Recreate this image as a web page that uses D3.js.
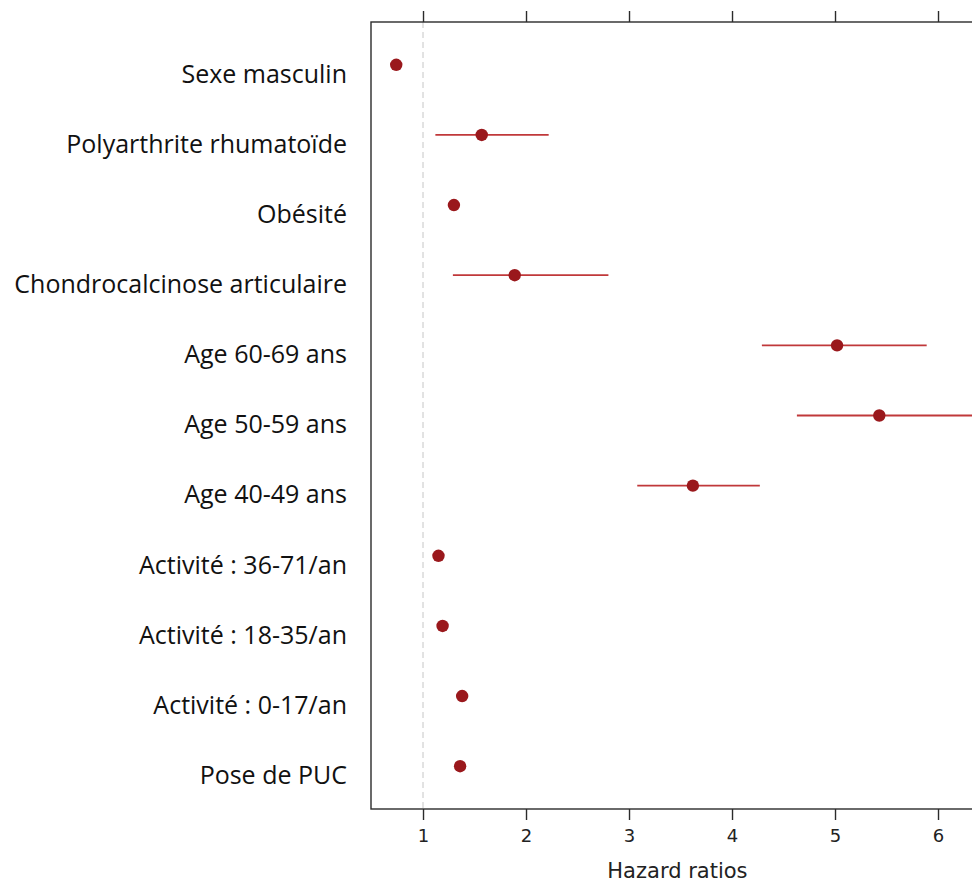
<!DOCTYPE html>
<html>
<head>
<meta charset="utf-8">
<script src="https://cdn.jsdelivr.net/npm/d3@7"></script>
<style>
  html, body { margin: 0; padding: 0; background: #fff; overflow: hidden; }
</style>
</head>
<body>
<div id="chart"></div>
<script>
// Data, top row first
const labels = [
    "Sexe masculin",
    "Polyarthrite rhumatoïde",
    "Obésité",
    "Chondrocalcinose articulaire",
    "Age 60-69 ans",
    "Age 50-59 ans",
    "Age 40-49 ans",
    "Activité : 36-71/an",
    "Activité : 18-35/an",
    "Activité : 0-17/an",
    "Pose de PUC"
];
const hr    = [0.74, 1.57, 1.30, 1.89, 5.02, 5.43, 3.62, 1.15, 1.19, 1.38, 1.36];
const lower = [0.71, 1.12, 1.27, 1.29, 4.29, 4.63, 3.08, 1.11, 1.15, 1.34, 1.32];
const upper = [0.77, 2.22, 1.33, 2.80, 5.89, 6.50, 4.27, 1.19, 1.23, 1.42, 1.40];
const tickVals = [1, 2, 3, 4, 5, 6];

const rows = labels.map((name, i) => ({ name, hr: hr[i], lo: lower[i], hi: upper[i] }));

// Lay-out
const fullWidth = 972;
const fullHeight = 883;
const margin = { top: 22, right: -30, bottom: 74, left: 371 };
const width = fullWidth - margin.left - margin.right;
const height = fullHeight - margin.top - margin.bottom;

const svg = d3.select("#chart")
    .append("svg")
    .attr("width", fullWidth)
    .attr("height", fullHeight)
    .append("g")
    .attr("transform", `translate(${margin.left},${margin.top})`);

const x = d3.scaleLinear().domain([0.495, 6.5]).range([0, 6.005 * 103]);
const y = d3.scalePoint().domain(labels).range([0, height]).padding(0.61);

// Reference line at HR = 1
svg.append("line")
    .attr("x1", x(1)).attr("x2", x(1))
    .attr("y1", 0).attr("y2", height)
    .style("stroke", "#d4d4d4")
    .style("stroke-width", 1.3)
    .style("stroke-dasharray", "6 4");

// Frame
svg.append("rect")
    .attr("x", 0).attr("y", 0)
    .attr("width", width).attr("height", height)
    .style("fill", "none")
    .style("stroke", "#2b2b2b")
    .style("stroke-width", 1.4);

// Axes (ticks outside the frame, top and bottom)
const gx = svg.append("g")
    .attr("transform", `translate(0,${height})`)
    .call(d3.axisBottom(x).tickValues(tickVals).tickSize(11).tickPadding(9).tickFormat(d3.format("d")));
const gt = svg.append("g")
    .call(d3.axisTop(x).tickValues(tickVals).tickSize(11).tickFormat(""));
[gx, gt].forEach(g => {
    g.select(".domain").remove();
    g.selectAll(".tick line").attr("stroke", "#2b2b2b").attr("stroke-width", 1.4);
});
gx.selectAll("text")
    .style("font-family", "DejaVu Sans")
    .style("font-size", "18px")
    .style("fill", "#222");

svg.append("text")
    .attr("x", x(3.47))
    .attr("y", height + 69)
    .attr("text-anchor", "middle")
    .style("font-family", "DejaVu Sans")
    .style("font-size", "21px")
    .style("fill", "#222")
    .text("Hazard ratios");

// Row labels (sit a little below their row)
svg.selectAll(".row-label")
    .data(rows)
    .join("text")
    .attr("class", "row-label")
    .attr("x", -24)
    .attr("y", d => y(d.name) + 9)
    .attr("dy", "0.35em")
    .attr("text-anchor", "end")
    .style("font-family", "Open Sans")
    .style("font-size", "25px")
    .style("fill", "#111")
    .text(d => d.name);

// Confidence intervals and points
svg.selectAll(".ci")
    .data(rows)
    .join("line")
    .attr("class", "ci")
    .attr("x1", d => x(d.lo))
    .attr("x2", d => x(d.hi))
    .attr("y1", d => y(d.name))
    .attr("y2", d => y(d.name))
    .style("stroke", "#c0383a")
    .style("stroke-width", 1.8);

svg.selectAll(".pt")
    .data(rows)
    .join("circle")
    .attr("class", "pt")
    .attr("cx", d => x(d.hr))
    .attr("cy", d => y(d.name))
    .attr("r", 6.2)
    .style("fill", "#9a181c");
</script>
</body>
</html>
